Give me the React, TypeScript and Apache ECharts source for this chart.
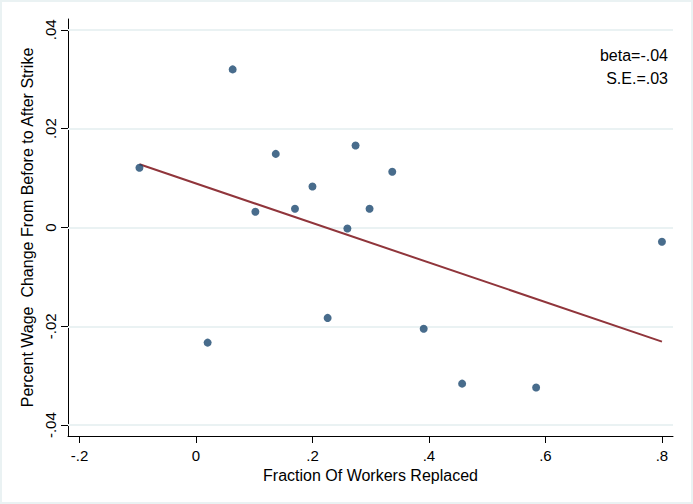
import React, { useEffect, useRef } from "react";
import * as echarts from "echarts";

const xValues = [-0.097, 0.020, 0.063, 0.102, 0.137, 0.170, 0.200, 0.226, 0.260, 0.274, 0.298, 0.337, 0.391, 0.457, 0.584, 0.800];
const yValues = [0.0121, -0.0233, 0.0320, 0.0032, 0.0149, 0.0038, 0.0083, -0.0183, -0.0002, 0.0166, 0.0038, 0.0113, -0.0205, -0.0316, -0.0324, -0.0029];
const fitX = [-0.097, 0.800];
const fitY = [0.0128, -0.0231];
const xTicks = [-0.2, 0, 0.2, 0.4, 0.6, 0.8];
const yTicks = [-0.04, -0.02, 0, 0.02, 0.04];
const notes = ["beta=-.04", "S.E.=.03"];
const xTitle = "Fraction Of Workers Replaced";
const yTitle = "Percent Wage  Change From Before to After Strike";

const fmt = (v: number) => (v === 0 ? "0" : String(v).replace("0.", "."));
const FONT = "Liberation Sans, Arial, sans-serif";

export default function App() {
  const ref = useRef<HTMLDivElement>(null);
  useEffect(() => {
    if (!ref.current) return;
    const chart = echarts.init(ref.current, undefined, { renderer: "svg" });
    chart.setOption({
      animation: false,
      backgroundColor: "#ffffff",
      textStyle: { fontFamily: FONT, color: "#000" },
      grid: { left: 66, right: 18, top: 17, bottom: 66 },
      xAxis: {
        type: "value",
        min: -0.2197,
        max: 0.819,
        axisLine: { show: true, onZero: false, lineStyle: { color: "#000", width: 1 } },
        axisTick: { show: true, length: 7, customValues: xTicks, lineStyle: { color: "#000" } },
        axisLabel: { customValues: xTicks, formatter: fmt, fontSize: 15, color: "#000", margin: 12, fontFamily: FONT },
        splitLine: { show: false },
        name: xTitle,
        nameLocation: "middle",
        nameGap: 30,
        nameTextStyle: { fontSize: 16, color: "#000", fontFamily: FONT },
      },
      yAxis: {
        type: "value",
        min: -0.0422,
        max: 0.0422,
        axisLine: { show: true, onZero: false, lineStyle: { color: "#000", width: 1 } },
        axisTick: { show: true, length: 7, customValues: yTicks, lineStyle: { color: "#000" } },
        axisLabel: { customValues: yTicks, formatter: fmt, fontSize: 15, color: "#000", rotate: 90, margin: 10, fontFamily: FONT },
        splitLine: { show: false },
        name: yTitle,
        nameLocation: "middle",
        nameGap: 27,
        nameRotate: 90,
        nameTextStyle: { fontSize: 16, color: "#000", fontFamily: FONT },
      },
      series: [
        {
          type: "scatter",
          data: [],
          silent: true,
          z: 1,
          markLine: {
            silent: true,
            z: 1,
            symbol: "none",
            label: { show: false },
            lineStyle: { color: "#EAF2F3", width: 2, type: "solid" },
            data: yTicks.map((v) => ({ yAxis: v })),
          },
        },
        {
          type: "line",
          data: fitX.map((x, i) => [x, fitY[i]]),
          symbol: "none",
          lineStyle: { color: "#90353B", width: 2 },
          z: 3,
        },
        {
          type: "scatter",
          data: xValues.map((x, i) => [x, yValues[i]]),
          symbol: "circle",
          symbolSize: 8,
          itemStyle: { color: "#1A476F" },
          z: 4,
        },
      ],
      graphic: notes.map((t, i) => ({
        type: "text",
        x: 666,
        y: 53 + i * 23,
        style: { text: t, fontSize: 16, fontFamily: FONT, fill: "#000", textAlign: "right", textVerticalAlign: "middle" },
      })),
    });
    return () => chart.dispose();
  }, []);
  return (
    <div style={{ position: "fixed", left: 0, top: 0, width: 693, height: 504, background: "#EAF2F3" }}>
      <div ref={ref} style={{ position: "absolute", left: 2, top: 2, width: 689, height: 500 }} />
    </div>
  );
}
